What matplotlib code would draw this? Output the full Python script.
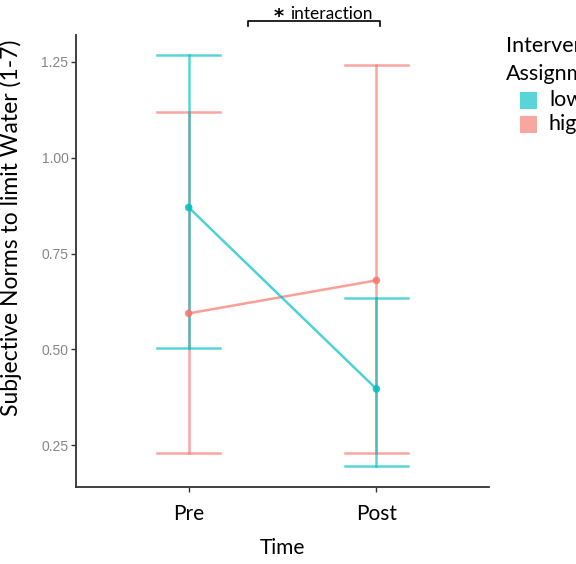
import matplotlib.pyplot as plt
from matplotlib.patches import Rectangle

# Data
times = ["Pre", "Post"]
groups = ["low", "high"]
colors = {"low": "#00BFC4", "high": "#F8766D"}
means = {"low": [0.870, 0.397], "high": [0.594, 0.680]}
upper = {"low": [1.266, 0.633], "high": [1.120, 1.240]}
lower = {"low": [0.505, 0.195], "high": [0.229, 0.229]}
yticks = [0.25, 0.50, 0.75, 1.00, 1.25]

FONT = ["Lato", "DejaVu Sans"]


def main():
    fig = plt.figure(figsize=(5.76, 5.64), dpi=100)
    ax = fig.add_axes([0.132, 0.1365, 0.717, 0.8015])

    x = [1, 2]
    # draw high first so low sits on top (as in reference)
    for g in ["high", "low"]:
        c = colors[g]
        ax.plot(x, means[g], color=c, lw=1.8, alpha=0.7, zorder=3)
        ax.scatter(x, means[g], color=c, s=30, alpha=0.85, zorder=4, edgecolor="none")
        for xi, lo, hi in zip(x, lower[g], upper[g]):
            ax.plot([xi, xi], [lo, hi], color=c, lw=1.8, alpha=0.65, zorder=2)
            ax.plot([xi - 0.167, xi + 0.167], [hi, hi], color=c, lw=1.8, alpha=0.65, zorder=2)
            ax.plot([xi - 0.167, xi + 0.167], [lo, lo], color=c, lw=1.8, alpha=0.65, zorder=2)

    ax.set_xlim(0.4, 2.6)
    ax.set_ylim(0.1415, 1.3195)
    ax.set_xticks(x)
    ax.set_xticklabels(times, family=FONT, fontsize=15, color="black")
    ax.set_yticks(yticks)
    ax.set_yticklabels([f"{v:.2f}" for v in yticks], family=["Liberation Sans", "DejaVu Sans"],
                       fontsize=10, color="#858585")
    ax.tick_params(axis="both", direction="out", length=3.5, width=1, color="#333333")
    ax.tick_params(axis="x", pad=9)
    ax.tick_params(axis="y", pad=2)

    for side in ["top", "right"]:
        ax.spines[side].set_visible(False)
    for side in ["left", "bottom"]:
        ax.spines[side].set_color("#333333")
        ax.spines[side].set_linewidth(1.3)

    ax.set_xlabel("Time", family=FONT, fontsize=15, va="center")
    ax.xaxis.set_label_coords(0.5, -0.135)
    ax.set_ylabel("Subjective Norms to limit Water (1-7)", family=FONT, fontsize=16.5, va="center")
    ax.yaxis.set_label_coords(-0.158, 0.573)

    # significance bracket
    by = 1.357
    ax.plot([1.317, 1.317, 2.02, 2.02], [by - 0.015, by, by, by - 0.015],
            color="black", lw=1.2, clip_on=False)
    ax.text(1.48, by - 0.004, "*", fontsize=14, fontweight="bold", ha="center", va="baseline",
            family=["DejaVu Sans"])
    ax.text(1.54, by + 0.004, "interaction", fontsize=12.5, ha="left", va="baseline",
            family=FONT)

    # legend (cut off at figure edge like the reference)
    fig.text(506 / 576, 1 - 46 / 564, "Intervention", family=FONT, fontsize=15.5, va="center")
    fig.text(506 / 576, 1 - 74 / 564, "Assignment", family=FONT, fontsize=15.5, va="center")
    for i, g in enumerate(groups):
        yc = 1 - (100 + 24 * i) / 564
        fig.patches.append(Rectangle((520 / 576, yc - 8.5 / 564), 17 / 576, 17 / 564,
                                     transform=fig.transFigure, color=colors[g], alpha=0.65,
                                     lw=0))
        fig.text(549 / 576, yc, g, family=FONT, fontsize=15.5, va="center")

    fig.savefig("out.png", dpi=100)


if __name__ == "__main__":
    main()
